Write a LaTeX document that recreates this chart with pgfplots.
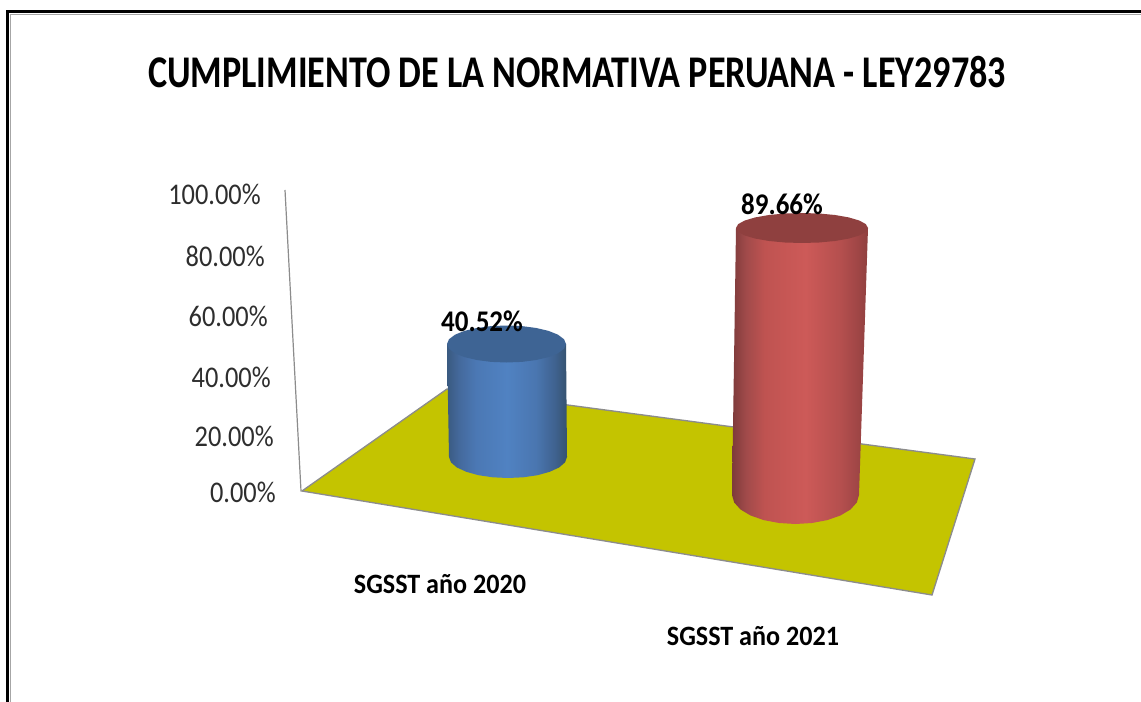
\documentclass[border=0pt]{standalone}
\usepackage{pgfplots}
\pgfplotsset{compat=1.18}
\usepackage{fontspec}
\setmainfont{Carlito}
\definecolor{c1a}{HTML}{3A5A80}\definecolor{c1b}{HTML}{44699C}\definecolor{c1c}{HTML}{4B78B4}
\definecolor{c1d}{HTML}{5082C2}\definecolor{c1e}{HTML}{4A76B0}\definecolor{c1f}{HTML}{3F628F}\definecolor{c1g}{HTML}{35526F}
\definecolor{c1top}{HTML}{3E6494}
\definecolor{c2a}{HTML}{7D3A3A}\definecolor{c2b}{HTML}{A04A4A}\definecolor{c2c}{HTML}{BF5351}
\definecolor{c2d}{HTML}{CD5A58}\definecolor{c2e}{HTML}{B44F4E}\definecolor{c2f}{HTML}{A04646}\definecolor{c2g}{HTML}{8F403F}
\definecolor{floorc}{HTML}{C4C400}
\definecolor{edgec}{HTML}{8C8C8C}
\definecolor{ticktxt}{HTML}{2E2E2E}
\pgfdeclarehorizontalshading{bluebody}{100bp}{color(0bp)=(c1a);color(25bp)=(c1a);color(30bp)=(c1b);color(37bp)=(c1c);color(50bp)=(c1d);color(62bp)=(c1e);color(70bp)=(c1f);color(75bp)=(c1g);color(100bp)=(c1g)}
\pgfdeclarehorizontalshading{redbody}{100bp}{color(0bp)=(c2a);color(25bp)=(c2a);color(30bp)=(c2b);color(37bp)=(c2c);color(52bp)=(c2d);color(65bp)=(c2e);color(71bp)=(c2f);color(75bp)=(c2g);color(100bp)=(c2g)}
\newcommand{\ticklab}[1]{\scalebox{0.88}[1]{\fontsize{22.5pt}{24pt}\selectfont\color{ticktxt}#1}}
\newcommand{\catlab}[1]{\scalebox{0.933}[1]{\fontsize{21pt}{24pt}\selectfont\bfseries #1}}
\begin{document}
\begin{tikzpicture}
\begin{axis}[
  at={(0,0)}, anchor=south west,
  scale only axis, width=855.75pt, height=526.5pt,
  xmin=0, xmax=1141, ymin=0, ymax=702, y dir=reverse,
  axis lines=none, clip=true,
]
% page
\addplot[draw=none, fill=white] coordinates {(0,0)(1141,0)(1141,702)(0,702)} --cycle;
% frame
\addplot[draw=black!35, line width=1.2pt] coordinates {(10.5,702)(10.5,14.5)(1141,14.5)};
\addplot[draw=black, line width=2.3pt] coordinates {(7.5,702)(7.5,11.5)(1141,11.5)};
% vertical axis line
\addplot[draw=edgec, line width=0.9pt] coordinates {(285,190)(301,491)};
% floor
\addplot[fill=floorc, draw=edgec, line width=1pt] coordinates {(302,491)(447,389)(975,459)(932,595)} --cycle;
% blue cylinder
\addplot[shading=bluebody, shading angle=0, draw=none] coordinates {(447,344)(449,457)(451,462.4)(456.9,467.5)(466.3,471.8)(478.5,475.2)(492.7,477.3)(508,478)(523.3,477.3)(537.5,475.2)(549.7,471.8)(559.1,467.5)(565,462.4)(567,457)(566,344)} --cycle;
\addplot[fill=c1top, draw=none] coordinates {(566,344)(564,348.8)(558,353.3)(548.6,357.1)(536.3,360)(521.9,361.9)(506.5,362.5)(491.1,361.9)(476.7,360)(464.4,357.1)(455,353.3)(449,348.8)(447,344)(449,339.2)(455,334.7)(464.4,330.9)(476.7,328)(491.1,326.1)(506.5,325.5)(521.9,326.1)(536.3,328)(548.6,330.9)(558,334.7)(564,339.2)} --cycle;
% red cylinder
\addplot[shading=redbody, shading angle=0, draw=none] coordinates {(736,228)(732,495)(734.2,502.5)(740.5,509.5)(750.6,515.5)(763.7,520.1)(779.1,523)(795.5,524)(811.9,523)(827.3,520.1)(840.4,515.5)(850.5,509.5)(856.8,502.5)(859,495)(868,228)} --cycle;
\addplot[fill=c2g, draw=none] coordinates {(868,228)(865.8,231.9)(859.2,235.5)(848.7,238.6)(835,241)(819.1,242.5)(802,243)(784.9,242.5)(769,241)(755.3,238.6)(744.8,235.5)(738.2,231.9)(736,228)(738.2,224.1)(744.8,220.5)(755.3,217.4)(769,215)(784.9,213.5)(802,213)(819.1,213.5)(835,215)(848.7,217.4)(859.2,220.5)(865.8,224.1)} --cycle;
% texts
\node[anchor=center, inner sep=0pt] at (axis cs:577,72) {\scalebox{0.797}[1]{\fontsize{34pt}{38pt}\selectfont\bfseries CUMPLIMIENTO DE LA NORMATIVA PERUANA - LEY29783}};
\node[anchor=east, inner sep=0pt] at (axis cs:261,194) {\ticklab{100.00\%}};
\node[anchor=east, inner sep=0pt] at (axis cs:265,256) {\ticklab{80.00\%}};
\node[anchor=east, inner sep=0pt] at (axis cs:268,316) {\ticklab{60.00\%}};
\node[anchor=east, inner sep=0pt] at (axis cs:271,377) {\ticklab{40.00\%}};
\node[anchor=east, inner sep=0pt] at (axis cs:274,436) {\ticklab{20.00\%}};
\node[anchor=east, inner sep=0pt] at (axis cs:276,492) {\ticklab{0.00\%}};
\node[anchor=center, inner sep=0pt] at (axis cs:482,321) {\scalebox{0.9}[1]{\fontsize{22.5pt}{24pt}\selectfont\bfseries 40.52\%}};
\node[anchor=center, inner sep=0pt] at (axis cs:782,204) {\scalebox{0.9}[1]{\fontsize{22.5pt}{24pt}\selectfont\bfseries 89.66\%}};
\node[anchor=center, inner sep=0pt] at (axis cs:440,584) {\catlab{SGSST año 2020}};
\node[anchor=center, inner sep=0pt] at (axis cs:753,636) {\catlab{SGSST año 2021}};
\end{axis}
\end{tikzpicture}
\end{document}
